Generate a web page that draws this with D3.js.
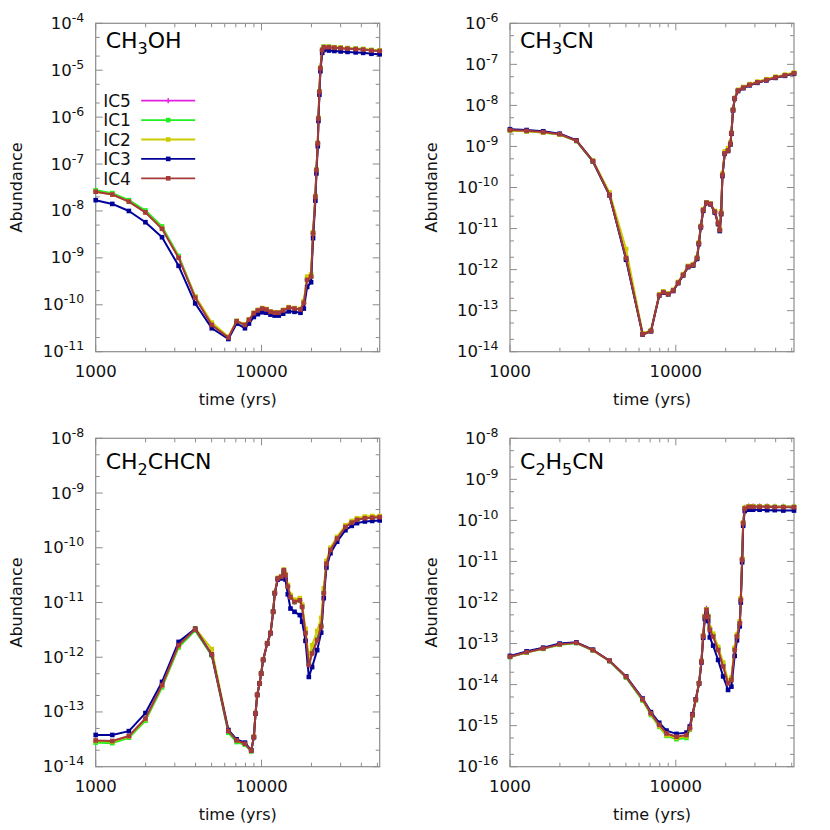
<!DOCTYPE html>
<html lang="en">
<head>
<meta charset="UTF-8">
<title>Abundance vs time</title>
<script src="https://d3js.org/d3.v7.min.js"></script>
<style>
  body { margin: 0; background: #fff; }
  svg { display: block; font-family: "DejaVu Sans", sans-serif; }
  .frame { fill: none; stroke: #8c8c8c; stroke-width: 1.2; }
  .tick { stroke: #8c8c8c; stroke-width: 1; }
  .ticklbl { font-size: 16.5px; fill: #111; }
  .axlbl { font-size: 16px; fill: #111; }
  .title { font-size: 22px; fill: #000; }
  .legtxt { font-size: 17px; fill: #111; }
  .curve { fill: none; stroke-width: 2; stroke-linejoin: round; }
</style>
</head>
<body>
<svg width="830" height="830"></svg>
<script>
// series names / colours (legend order = draw order)
const seriesNames = ["IC5", "IC1", "IC2", "IC3", "IC4"];
const seriesColors = ["#e020e0", "#22ee22", "#cccc00", "#000099", "#a53a3a"];

// time grids (yrs) and log10 abundances

// CH3OH
const ch3ohTime = [1000, 1259, 1585, 1995, 2512, 3162, 3981, 5012, 6310, 7079, 7943, 8400, 8990, 9500, 10090, 10700, 11330, 12000, 12710, 13500, 14600, 15800, 17180, 17990, 18840, 19900, 20460, 21130, 21430, 21840, 22040, 22340, 22650, 23220, 23760, 25500, 27500, 30000, 33000, 37000, 41000, 46000, 51600];
const ch3ohIC5 = [-7.58,-7.64,-7.79,-8.02,-8.36,-8.98,-9.84,-10.43,-10.70,-10.36,-10.44,-10.33,-10.18,-10.12,-10.08,-10.10,-10.15,-10.17,-10.17,-10.12,-10.06,-10.08,-10.10,-9.96,-9.47,-9.40,-8.48,-7.70,-7.13,-6.56,-6.03,-5.46,-4.96,-4.57,-4.51,-4.51,-4.52,-4.53,-4.54,-4.55,-4.56,-4.58,-4.59];
const ch3ohIC1 = [-7.56,-7.62,-7.77,-7.99,-8.33,-8.96,-9.82,-10.42,-10.70,-10.35,-10.44,-10.33,-10.18,-10.12,-10.08,-10.10,-10.15,-10.17,-10.17,-10.12,-10.06,-10.08,-10.10,-9.95,-9.46,-9.39,-8.47,-7.69,-7.12,-6.55,-6.02,-5.45,-4.95,-4.56,-4.50,-4.50,-4.51,-4.52,-4.53,-4.54,-4.55,-4.57,-4.58];
const ch3ohIC2 = [-7.59,-7.65,-7.80,-8.03,-8.37,-8.99,-9.82,-10.38,-10.68,-10.34,-10.42,-10.31,-10.17,-10.11,-10.07,-10.09,-10.14,-10.16,-10.16,-10.11,-10.05,-10.07,-10.09,-9.92,-9.40,-9.35,-8.45,-7.68,-7.12,-6.55,-6.02,-5.45,-4.95,-4.56,-4.50,-4.50,-4.51,-4.52,-4.53,-4.54,-4.55,-4.57,-4.58];
const ch3ohIC3 = [-7.77,-7.85,-8.00,-8.24,-8.56,-9.17,-9.97,-10.50,-10.73,-10.40,-10.50,-10.40,-10.26,-10.20,-10.16,-10.17,-10.21,-10.23,-10.23,-10.19,-10.14,-10.15,-10.17,-10.08,-9.62,-9.52,-8.58,-7.78,-7.20,-6.62,-6.08,-5.52,-5.02,-4.63,-4.57,-4.58,-4.59,-4.60,-4.61,-4.62,-4.63,-4.65,-4.66];
const ch3ohIC4 = [-7.59,-7.65,-7.80,-8.03,-8.38,-9.00,-9.85,-10.43,-10.70,-10.35,-10.43,-10.32,-10.18,-10.12,-10.08,-10.10,-10.15,-10.17,-10.17,-10.12,-10.06,-10.08,-10.10,-9.96,-9.47,-9.40,-8.48,-7.70,-7.13,-6.56,-6.03,-5.46,-4.96,-4.57,-4.51,-4.51,-4.52,-4.53,-4.54,-4.55,-4.56,-4.58,-4.59];

// CH3CN
const ch3cnTime = [1000, 1260, 1585, 1995, 2512, 3162, 3981, 5012, 6310, 7079, 7943, 8400, 8990, 9640, 10330, 11070, 11860, 12710, 13430, 13760, 14150, 14620, 15310, 16180, 17180, 17990, 18410, 18760, 19100, 19720, 20650, 21330, 21630, 22130, 22650, 23720, 25500, 27900, 31000, 35150, 40000, 45500, 51600];
const ch3cnIC5 = [-8.60,-8.62,-8.65,-8.70,-8.86,-9.36,-10.18,-11.72,-13.58,-13.50,-12.62,-12.55,-12.60,-12.51,-12.32,-12.13,-11.93,-11.89,-11.72,-11.36,-10.95,-10.55,-10.37,-10.40,-10.59,-10.87,-11.04,-10.63,-9.70,-9.17,-9.10,-8.94,-8.68,-8.11,-7.83,-7.64,-7.57,-7.50,-7.44,-7.38,-7.32,-7.27,-7.22];
const ch3cnIC1 = [-8.61,-8.63,-8.66,-8.71,-8.87,-9.37,-10.19,-11.73,-13.58,-13.50,-12.62,-12.55,-12.60,-12.51,-12.32,-12.13,-11.93,-11.89,-11.72,-11.36,-10.95,-10.55,-10.37,-10.40,-10.59,-10.87,-11.04,-10.63,-9.70,-9.17,-9.10,-8.94,-8.68,-8.11,-7.83,-7.64,-7.57,-7.50,-7.44,-7.38,-7.32,-7.27,-7.22];
const ch3cnIC2 = [-8.61,-8.63,-8.66,-8.71,-8.86,-9.34,-10.12,-11.50,-13.55,-13.48,-12.60,-12.53,-12.58,-12.49,-12.30,-12.11,-11.91,-11.87,-11.70,-11.33,-10.93,-10.53,-10.36,-10.39,-10.57,-10.85,-11.00,-10.58,-9.66,-9.12,-9.04,-8.90,-8.66,-8.10,-7.82,-7.62,-7.55,-7.48,-7.42,-7.36,-7.30,-7.25,-7.20];
const ch3cnIC3 = [-8.58,-8.60,-8.63,-8.69,-8.85,-9.36,-10.19,-11.76,-13.58,-13.50,-12.63,-12.56,-12.60,-12.52,-12.33,-12.14,-11.94,-11.90,-11.74,-11.38,-10.97,-10.57,-10.38,-10.41,-10.61,-10.89,-11.06,-10.65,-9.72,-9.18,-9.11,-8.95,-8.69,-8.12,-7.84,-7.65,-7.58,-7.51,-7.45,-7.39,-7.33,-7.28,-7.23];
const ch3cnIC4 = [-8.60,-8.62,-8.65,-8.70,-8.86,-9.36,-10.18,-11.72,-13.58,-13.50,-12.62,-12.55,-12.60,-12.51,-12.32,-12.13,-11.93,-11.89,-11.72,-11.36,-10.95,-10.55,-10.37,-10.40,-10.59,-10.87,-11.04,-10.63,-9.70,-9.17,-9.10,-8.94,-8.68,-8.11,-7.83,-7.64,-7.57,-7.50,-7.44,-7.38,-7.32,-7.27,-7.22];

// CH2CHCN
const ch2chcnTime = [1000, 1259, 1585, 1995, 2512, 3162, 3981, 5012, 6310, 7079, 7943, 8670, 8990, 9200, 9420, 9730, 9950, 10230, 10820, 11330, 11750, 12020, 12530, 13140, 13630, 13950, 14400, 14950, 15810, 17020, 17580, 18410, 19290, 20190, 21660, 22900, 23730, 24640, 26050, 28580, 32060, 35000, 37670, 42000, 46500, 51600];
const ch2chcnIC5 = [-13.54,-13.55,-13.46,-13.14,-12.53,-11.80,-11.50,-11.96,-13.37,-13.54,-13.59,-13.71,-13.46,-13.03,-12.69,-12.48,-12.30,-12.05,-11.75,-11.56,-11.17,-10.83,-10.56,-10.53,-10.41,-10.50,-10.71,-10.90,-10.99,-10.96,-11.08,-11.56,-12.14,-11.93,-11.69,-11.44,-10.83,-10.29,-10.04,-9.83,-9.62,-9.54,-9.49,-9.46,-9.45,-9.44];
const ch2chcnIC1 = [-13.56,-13.57,-13.47,-13.16,-12.55,-11.82,-11.51,-11.97,-13.38,-13.55,-13.60,-13.72,-13.46,-13.03,-12.69,-12.48,-12.30,-12.05,-11.75,-11.56,-11.17,-10.83,-10.56,-10.53,-10.41,-10.50,-10.71,-10.90,-10.99,-10.96,-11.08,-11.54,-12.10,-11.90,-11.66,-11.42,-10.82,-10.28,-10.03,-9.82,-9.61,-9.53,-9.48,-9.45,-9.44,-9.43];
const ch2chcnIC2 = [-13.53,-13.54,-13.45,-13.13,-12.52,-11.79,-11.47,-11.85,-13.33,-13.52,-13.58,-13.70,-13.45,-13.02,-12.68,-12.47,-12.29,-12.04,-11.74,-11.55,-11.16,-10.82,-10.55,-10.52,-10.40,-10.48,-10.68,-10.86,-10.95,-10.92,-11.04,-11.48,-12.02,-11.78,-11.52,-11.28,-10.74,-10.24,-10.00,-9.80,-9.59,-9.51,-9.46,-9.43,-9.42,-9.42];
const ch2chcnIC3 = [-13.42,-13.42,-13.35,-13.02,-12.45,-11.72,-11.48,-11.95,-13.33,-13.50,-13.56,-13.70,-13.46,-13.03,-12.69,-12.48,-12.30,-12.05,-11.75,-11.56,-11.17,-10.83,-10.58,-10.56,-10.45,-10.58,-10.85,-11.11,-11.17,-11.23,-11.35,-11.70,-12.36,-12.18,-11.87,-11.55,-10.92,-10.36,-10.10,-9.89,-9.68,-9.60,-9.55,-9.52,-9.51,-9.50];
const ch2chcnIC4 = [-13.52,-13.53,-13.44,-13.12,-12.51,-11.78,-11.49,-11.95,-13.35,-13.52,-13.58,-13.71,-13.46,-13.03,-12.69,-12.48,-12.30,-12.05,-11.75,-11.56,-11.17,-10.83,-10.56,-10.53,-10.41,-10.50,-10.71,-10.90,-10.99,-10.96,-11.08,-11.56,-12.14,-11.93,-11.69,-11.44,-10.83,-10.29,-10.04,-9.83,-9.62,-9.54,-9.49,-9.46,-9.45,-9.44];

// C2H5CN
const c2h5cnTime = [1000, 1260, 1585, 1995, 2512, 3162, 3981, 5012, 6310, 7079, 7943, 8790, 10090, 11590, 12140, 12600, 13190, 13810, 14280, 14620, 14960, 15310, 15670, 16030, 16790, 17990, 19290, 20650, 21630, 22650, 23380, 24300, 24640, 25120, 25480, 26050, 27500, 29250, 32000, 35500, 39500, 44500, 51600];
const c2h5cnIC5 = [-13.32,-13.21,-13.12,-13.02,-12.98,-13.16,-13.42,-13.82,-14.37,-14.71,-15.00,-15.21,-15.29,-15.25,-15.07,-14.74,-14.36,-13.95,-13.40,-12.78,-12.30,-12.14,-12.32,-12.64,-12.80,-13.13,-13.53,-13.94,-13.87,-13.14,-12.81,-12.49,-11.92,-10.94,-10.05,-9.68,-9.65,-9.65,-9.65,-9.65,-9.66,-9.66,-9.66];
const c2h5cnIC1 = [-13.33,-13.22,-13.13,-13.03,-12.99,-13.17,-13.43,-13.83,-14.39,-14.74,-15.03,-15.25,-15.33,-15.30,-15.10,-14.76,-14.38,-13.97,-13.43,-12.82,-12.34,-12.17,-12.33,-12.64,-12.80,-13.12,-13.52,-13.93,-13.86,-13.14,-12.82,-12.50,-11.93,-10.95,-10.06,-9.70,-9.66,-9.66,-9.66,-9.66,-9.67,-9.67,-9.67];
const c2h5cnIC2 = [-13.32,-13.21,-13.12,-13.02,-12.98,-13.16,-13.42,-13.81,-14.37,-14.72,-15.01,-15.23,-15.30,-15.26,-15.08,-14.75,-14.37,-13.96,-13.42,-12.80,-12.33,-12.17,-12.33,-12.62,-12.76,-13.08,-13.46,-13.90,-13.83,-13.10,-12.78,-12.46,-11.90,-10.93,-10.05,-9.69,-9.66,-9.66,-9.66,-9.66,-9.67,-9.67,-9.67];
const c2h5cnIC3 = [-13.30,-13.19,-13.10,-13.00,-12.97,-13.15,-13.42,-13.80,-14.34,-14.67,-14.93,-15.12,-15.20,-15.17,-15.02,-14.72,-14.36,-13.97,-13.46,-12.86,-12.40,-12.25,-12.45,-12.85,-13.05,-13.40,-13.80,-14.13,-14.05,-13.30,-12.92,-12.58,-12.00,-11.02,-10.13,-9.77,-9.74,-9.74,-9.74,-9.75,-9.75,-9.76,-9.76];
const c2h5cnIC4 = [-13.32,-13.21,-13.12,-13.02,-12.98,-13.16,-13.42,-13.81,-14.36,-14.70,-14.98,-15.19,-15.27,-15.23,-15.06,-14.74,-14.37,-13.97,-13.44,-12.83,-12.35,-12.18,-12.35,-12.67,-12.83,-13.16,-13.56,-13.97,-13.89,-13.16,-12.83,-12.51,-11.94,-10.96,-10.07,-9.71,-9.67,-9.67,-9.67,-9.67,-9.68,-9.68,-9.68];

// tick values
const xMajorTicks = [1000, 10000];
const xMinorTicks = [2000, 3000, 4000, 5000, 6000, 7000, 8000, 9000, 20000, 30000, 40000, 50000];
const yMinorMult = [2, 5];
const xDomain = [1000, 51600];

const panels = [
  { title: [["CH"], ["3", 1], ["OH"]], t: ch3ohTime, s: [ch3ohIC5, ch3ohIC1, ch3ohIC2, ch3ohIC3, ch3ohIC4], ylo: -11, yhi: -4, col: 0, row: 0, legend: true },
  { title: [["CH"], ["3", 1], ["CN"]], t: ch3cnTime, s: [ch3cnIC5, ch3cnIC1, ch3cnIC2, ch3cnIC3, ch3cnIC4], ylo: -14, yhi: -6, col: 1, row: 0 },
  { title: [["CH"], ["2", 1], ["CHCN"]], t: ch2chcnTime, s: [ch2chcnIC5, ch2chcnIC1, ch2chcnIC2, ch2chcnIC3, ch2chcnIC4], ylo: -14, yhi: -8, col: 0, row: 1 },
  { title: [["C"], ["2", 1], ["H"], ["5", 1], ["CN"]], t: c2h5cnTime, s: [c2h5cnIC5, c2h5cnIC1, c2h5cnIC2, c2h5cnIC3, c2h5cnIC4], ylo: -16, yhi: -8, col: 1, row: 1 }
];

const svg = d3.select("svg");
const colLeft = [95.7, 510];
const rowTop = [23.3, 438.3];
const plotW = 284, plotH = 328.4;
const titleDy = [24.6, 30.8];

function marker(g, kind, cx, cy, color) {
  if (kind === "plus") {
    g.append("path")
      .attr("d", `M${cx - 2.6},${cy}H${cx + 2.6}M${cx},${cy - 2.6}V${cy + 2.6}`)
      .attr("stroke", color).attr("stroke-width", 1.3);
  } else {
    g.append("rect")
      .attr("x", cx - 2.3).attr("y", cy - 2.3)
      .attr("width", 4.6).attr("height", 4.6)
      .attr("fill", color);
  }
}

function drawPanel(p) {
  const left = colLeft[p.col], top = rowTop[p.row];
  const right = left + plotW, bottom = top + plotH;
  const g = svg.append("g");

  const x = d3.scaleLog().domain(xDomain).range([left, right]);
  const y = d3.scaleLog().domain([10 ** p.ylo, 10 ** p.yhi]).range([bottom, top]);

  // x ticks, bottom and top
  const xt = xMajorTicks.map(v => [v, 7]).concat(xMinorTicks.map(v => [v, 4]));
  xt.forEach(([v, len]) => {
    const px = x(v);
    g.append("line").attr("class", "tick").attr("x1", px).attr("x2", px).attr("y1", bottom).attr("y2", bottom - len);
    g.append("line").attr("class", "tick").attr("x1", px).attr("x2", px).attr("y1", top).attr("y2", top + len);
  });
  xMajorTicks.forEach(v => {
    g.append("text").attr("class", "ticklbl")
      .attr("x", x(v)).attr("y", bottom + 25.5)
      .attr("text-anchor", "middle").text(v);
  });

  // y ticks, left and right
  const yt = [];
  d3.range(p.ylo, p.yhi + 1).forEach(e => yt.push([10 ** e, 7]));
  d3.range(p.ylo, p.yhi).forEach(e => yMinorMult.forEach(m => yt.push([m * 10 ** e, 4])));
  yt.forEach(([v, len]) => {
    const py = y(v);
    g.append("line").attr("class", "tick").attr("x1", left).attr("x2", left + len).attr("y1", py).attr("y2", py);
    g.append("line").attr("class", "tick").attr("x1", right).attr("x2", right - len).attr("y1", py).attr("y2", py);
  });
  d3.range(p.ylo, p.yhi + 1).forEach(e => {
    const t = g.append("text").attr("class", "ticklbl")
      .attr("x", left - 11.5).attr("y", y(10 ** e) + 5.5)
      .attr("text-anchor", "end");
    t.append("tspan").text("10");
    t.append("tspan").attr("dy", -7).attr("font-size", "12.5px").text(String(e));
  });

  g.append("rect").attr("class", "frame")
    .attr("x", left).attr("y", top).attr("width", plotW).attr("height", plotH);

  // axis labels
  g.append("text").attr("class", "axlbl")
    .attr("transform", `translate(${left - 73.5},${(top + bottom) / 2}) rotate(-90)`)
    .attr("text-anchor", "middle").text("Abundance");
  g.append("text").attr("class", "axlbl")
    .attr("x", (left + right) / 2).attr("y", bottom + 53)
    .attr("text-anchor", "middle").text("time (yrs)");

  // title with subscripts
  const tt = g.append("text").attr("class", "title")
    .attr("x", left + 10).attr("y", top + titleDy[p.row]);
  let shifted = false;
  p.title.forEach(([s, sub]) => {
    const sp = tt.append("tspan").text(s);
    if (sub && !shifted) { sp.attr("dy", 5.6).attr("font-size", "16px"); shifted = true; }
    else if (!sub && shifted) { sp.attr("dy", -5.6); shifted = false; }
    else if (sub) sp.attr("font-size", "16px");
  });

  // curves
  const line = d3.line().x(d => x(d[0])).y(d => y(10 ** d[1]));
  p.s.forEach((vals, i) => {
    const pts = d3.zip(p.t, vals);
    const color = seriesColors[i];
    g.append("path").attr("class", "curve").attr("stroke", color).attr("d", line(pts));
    const mg = g.append("g");
    pts.forEach(d => marker(mg, i === 0 ? "plus" : "square", x(d[0]), y(10 ** d[1]), color));
  });

  // legend
  if (p.legend) {
    seriesNames.forEach((n, i) => {
      const ly = 100.7 + i * 19.4;
      g.append("text").attr("class", "legtxt").attr("x", left + 7.5).attr("y", ly + 6.2).text(n);
      g.append("line").attr("x1", left + 45.5).attr("x2", left + 99.5)
        .attr("y1", ly).attr("y2", ly)
        .attr("stroke", seriesColors[i]).attr("stroke-width", 1.8);
      marker(g, i === 0 ? "plus" : "square", left + 72.5, ly, seriesColors[i]);
    });
  }
}

panels.forEach(drawPanel);
</script>
</body>
</html>
